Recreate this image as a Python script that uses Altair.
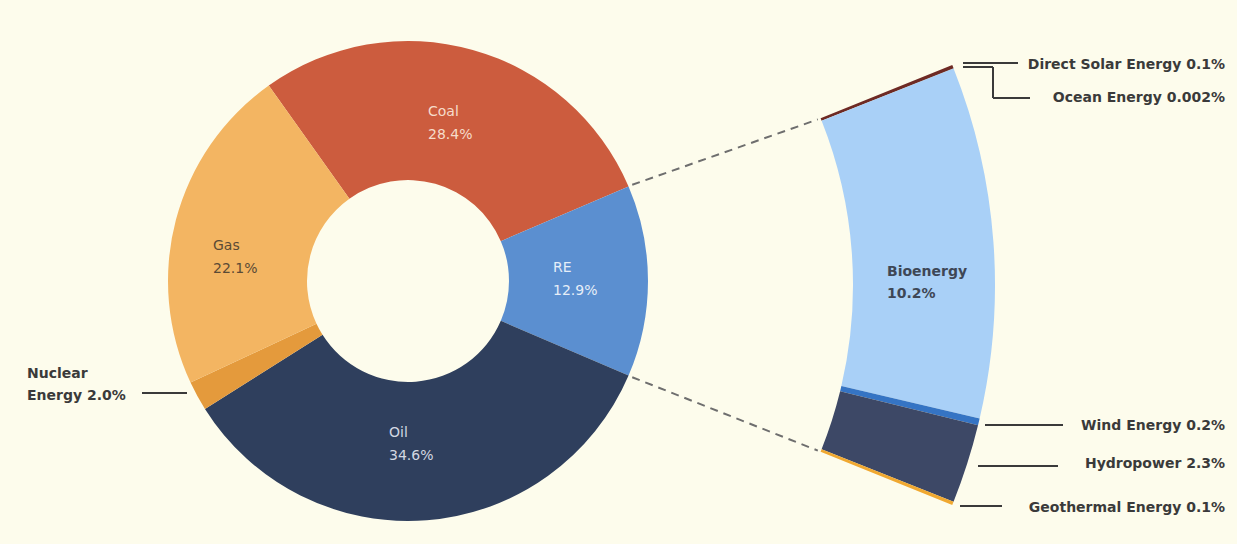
import math
import altair as alt
import pandas as pd

# ---------------- data ----------------
main_cats = ["Coal", "RE", "Oil", "Nuclear Energy", "Gas"]
main_vals = [28.4, 12.9, 34.6, 2.0, 22.1]
main_colors = ["#CC5C3E", "#5B8FD0", "#2F3F5D", "#E49A3C", "#F3B562"]

re_cats = ["Direct Solar Energy", "Ocean Energy", "Bioenergy", "Wind Energy",
           "Hydropower", "Geothermal Energy"]
re_vals = [0.1, 0.002, 10.2, 0.2, 2.3, 0.1]
re_val_text = ["0.1%", "0.002%", "10.2%", "0.2%", "2.3%", "0.1%"]
re_colors = ["#6E2A24", "#4A2A2A", "#A9D0F7", "#3574C4", "#3D4866", "#F0A830"]

# ---------------- layout ----------------
W, H = 1237, 544
BG = "#FDFCEC"
CX, CY = 408, 281          # donut centre
R_OUT, R_IN = 240, 101
ACX, ACY = 408, 285        # exploded RE ring centre
AR_OUT, AR_IN = 587, 445
HALF = 22.0                # half angle of exploded ring (deg)
FONT = "DejaVu Sans"

total = sum(main_vals)
re_idx = main_cats.index("RE")
before_re = sum(main_vals[:re_idx])
start_deg = 90 - (before_re + main_vals[re_idx] / 2) * 360 / total
start_rad = math.radians(start_deg) + 2 * math.pi

main_df = pd.DataFrame({"cat": main_cats, "val": main_vals,
                        "color": main_colors, "idx": range(len(main_cats))})
re_df = pd.DataFrame({"cat": re_cats, "val": re_vals,
                      "color": re_colors, "idx": range(len(re_cats))})

donut = alt.Chart(main_df).mark_arc(innerRadius=R_IN, outerRadius=R_OUT).encode(
    theta=alt.Theta("val:Q", stack=True,
                    scale=alt.Scale(domain=[0, total],
                                    range=[start_rad, start_rad + 2 * math.pi])),
    order=alt.Order("idx:Q"),
    color=alt.Color("color:N", scale=None),
    x=alt.value(CX), y=alt.value(CY),
)

re_total = sum(re_vals)
ring = alt.Chart(re_df).mark_arc(innerRadius=AR_IN, outerRadius=AR_OUT).encode(
    theta=alt.Theta("val:Q", stack=True,
                    scale=alt.Scale(domain=[0, re_total],
                                    range=[math.radians(90 - HALF),
                                           math.radians(90 + HALF)])),
    order=alt.Order("idx:Q"),
    color=alt.Color("color:N", scale=None),
    x=alt.value(ACX), y=alt.value(ACY),
)

# dashed connectors from RE boundaries to exploded ring corners
a1 = math.radians(start_deg + before_re * 360 / total)
a2 = math.radians(start_deg + (before_re + main_vals[re_idx]) * 360 / total)
b1 = math.radians(90 - HALF)
b2 = math.radians(90 + HALF)
rr = R_OUT + 4
dash_df = pd.DataFrame({
    "x": [CX + rr * math.sin(a1), CX + rr * math.sin(a2)],
    "y": [CY - rr * math.cos(a1), CY - rr * math.cos(a2)],
    "x2": [ACX + (AR_IN - 3) * math.sin(b1), ACX + (AR_IN - 3) * math.sin(b2)],
    "y2": [ACY - (AR_IN - 3) * math.cos(b1), ACY - (AR_IN - 3) * math.cos(b2)],
})
dashes = alt.Chart(dash_df).mark_rule(color="#6E6E6E", strokeWidth=2,
                                      strokeDash=[8, 6]).encode(
    x=alt.X("x:Q", scale=None, axis=None), y=alt.Y("y:Q", scale=None, axis=None),
    x2="x2:Q", y2="y2:Q")

# leader lines (annotation layout)
leaders = pd.DataFrame([
    (963, 63, 1018, 63),
    (963, 67, 993, 67), (993, 67, 993, 98), (993, 98, 1030, 98),
    (985, 425, 1063, 425),
    (978, 466, 1058, 466),
    (960, 506, 1002, 506),
    (142, 393, 187, 393),
], columns=["x", "y", "x2", "y2"])
lead = alt.Chart(leaders).mark_rule(color="#3A3A3A", strokeWidth=2).encode(
    x=alt.X("x:Q", scale=None, axis=None), y=alt.Y("y:Q", scale=None, axis=None),
    x2="x2:Q", y2="y2:Q")

# ---------------- labels ----------------
def pct(v):
    return f"{v:.1f}%"

inner_pos = {  # x, baseline y, colour
    "Coal": (428, 116, "#F6DCCB"),
    "Gas": (213, 250, "#5A4A35"),
    "RE": (553, 272, "#E6EEF8"),
    "Oil": (389, 437, "#D3D8E2"),
}
inner_rows = []
for c, v in zip(main_cats, main_vals):
    if c in inner_pos:
        x, y, col = inner_pos[c]
        inner_rows.append({"x": x, "y": y, "t": f"{c}\n{pct(v)}", "color": col})
inner_df = pd.DataFrame(inner_rows)
inner_text = alt.Chart(inner_df).mark_text(
    align="left", baseline="alphabetic", lineBreak="\n", lineHeight=23,
    font=FONT, fontSize=14).encode(
    x=alt.X("x:Q", scale=None, axis=None), y=alt.Y("y:Q", scale=None, axis=None),
    text="t:N", color=alt.Color("color:N", scale=None))

nuc_v = main_vals[main_cats.index("Nuclear Energy")]
bio_i = re_cats.index("Bioenergy")
bold_rows = [
    {"x": 27, "y": 378, "t": "Nuclear\nEnergy " + pct(nuc_v), "color": "#3A3A3A"},
    {"x": 887, "y": 276, "t": f"{re_cats[bio_i]}\n{re_val_text[bio_i]}", "color": "#3E4756"},
]
bold_df = pd.DataFrame(bold_rows)
bold_text = alt.Chart(bold_df).mark_text(
    align="left", baseline="alphabetic", lineBreak="\n", lineHeight=22,
    font=FONT, fontSize=14, fontWeight="bold").encode(
    x=alt.X("x:Q", scale=None, axis=None), y=alt.Y("y:Q", scale=None, axis=None),
    text="t:N", color=alt.Color("color:N", scale=None))

right_y = {"Direct Solar Energy": 69, "Ocean Energy": 102, "Wind Energy": 430,
           "Hydropower": 468, "Geothermal Energy": 512}
right_rows = []
for c, t in zip(re_cats, re_val_text):
    if c in right_y:
        right_rows.append({"x": 1225, "y": right_y[c], "t": f"{c} {t}"})
right_df = pd.DataFrame(right_rows)
right_text = alt.Chart(right_df).mark_text(
    align="right", baseline="alphabetic", font=FONT, fontSize=14,
    fontWeight="bold", color="#3A3A3A").encode(
    x=alt.X("x:Q", scale=None, axis=None), y=alt.Y("y:Q", scale=None, axis=None),
    text="t:N")

chart = alt.layer(dashes, donut, ring, lead, inner_text, bold_text, right_text).resolve_scale(
    theta="independent"
).properties(
    width=W, height=H, padding=0, background=BG,
    autosize=alt.AutoSizeParams(type="none"),
).configure_view(stroke=None)

chart.save("out.html", embed_options={"renderer": "svg", "actions": False})
